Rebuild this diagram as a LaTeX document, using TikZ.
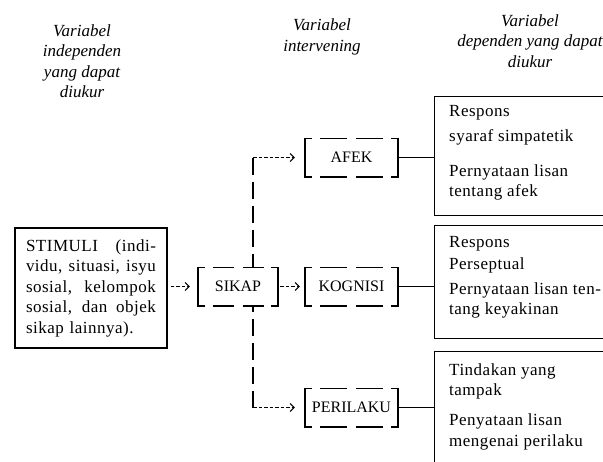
\documentclass[tikz,border=0pt]{standalone}
\usepackage{fontspec}
\setmainfont{Liberation Serif}
\usetikzlibrary{arrows.meta}

% one justified line of the stimulus box
\newcommand{\jline}[1]{\leavevmode\hbox to 130pt{\spaceskip=.25em plus 1fil\relax #1}}

% bracket-like dashed frame round a node: name, dash length
\newcommand{\brkbox}[2]{%
  \draw[brkline] ([xshift=7pt]#1.north west) -| (#1.south west) -- ([xshift=7pt]#1.south west);
  \draw[brkline] ([xshift=-7pt]#1.north east) -| (#1.south east) -- ([xshift=-7pt]#1.south east);
  \draw[brkline, dash pattern=on #2pt off 9pt, dash phase=#2pt+1pt] ([xshift=7pt]#1.north west) -- ([xshift=-7pt]#1.north east);
  \draw[brkline, dash pattern=on #2pt off 9pt, dash phase=#2pt+1pt] ([xshift=7pt]#1.south west) -- ([xshift=-7pt]#1.south east);
}

\tikzset{
  hdr/.style={font=\fontsize{17}{20.5}\selectfont\itshape, align=center},
  body/.style={font=\fontsize{17}{20.5}\selectfont\addfontfeature{LetterSpace=3}},
  stimbox/.style={draw, line width=1.2pt, body, text width=130pt, align=left, inner xsep=11pt, minimum height=120pt},
  brk/.style={minimum width=93pt, minimum height=38pt, inner sep=0pt, font=\fontsize{16}{19}\selectfont},
  brkline/.style={line width=1.6pt},
  resbox/.style={draw, line width=1.2pt, anchor=north west, minimum width=200pt, inner sep=0pt},
  restxt/.style={body, anchor=north west, align=left, inner sep=0pt},
  conn/.style={line width=1.2pt},
  vline/.style={line width=1.5pt, dash pattern=on 17pt off 7pt},
  darrow/.style={-{Straight Barb[length=4pt,width=8pt]}, line width=1pt, dash pattern=on 3.5pt off 2pt},
}

\begin{document}
\begin{tikzpicture}[x=1pt,y=-1pt]
\clip (0,0) rectangle (603,461);

% Column headings
\node[hdr] (hdrInd) at (82,61) {Variabel\\independen\\yang dapat\\diukur};
\node[hdr] (hdrInt) at (322,37) {Variabel\\intervening};
\node[hdr] (hdrDep) at (530,41) {Variabel\\dependen yang dapat\\diukur};

% Stimulus
\node[stimbox] (stimuli) at (91,288) {\jline{STIMULI (indi-}\\\jline{vidu, situasi, isyu}\\\jline{sosial, kelompok}\\\jline{sosial, dan objek}\\sikap lainnya).};

% Intervening variables
\node[brk, minimum width=80pt] (sikap) at (238,286.5) {SIKAP};
\node[brk] (afek) at (351.5,157.5) {AFEK};
\node[brk] (kognisi) at (351.5,286.5) {KOGNISI};
\node[brk] (perilaku) at (351.5,407.5) {PERILAKU};
\brkbox{sikap}{21}
\brkbox{afek}{27}
\brkbox{kognisi}{27}
\brkbox{perilaku}{27}

% Measured dependent variables
\node[resbox, minimum height=119pt] (resA) at (434,96) {};
\node[resbox, minimum height=113pt] (resB) at (434,225) {};
\node[resbox, minimum height=130pt] (resC) at (434,351) {};
\node[restxt] (resAtxt) at (449,104.7) {Respons\\[4.5pt]syaraf simpatetik\\[14.5pt]Pernyataan lisan\\tentang afek};
\node[restxt] (resBtxt) at (449,235.7) {Respons\\[1.5pt]Perseptual\\[4.5pt]Pernyataan lisan ten-\\tang keyakinan};
\node[restxt] (resCtxt) at (449,363.4) {Tindakan yang\\tampak\\[9.5pt]Penyataan lisan\\mengenai perilaku};

% Solid links
\draw[conn] (afek.east) -- (afek.east -| resA.west);
\draw[conn] (kognisi.east) -- (kognisi.east -| resB.west);
\draw[conn] (perilaku.east) -- (perilaku.east -| resC.west);

% Dashed arrows
\coordinate (turnA) at (253,157.5);
\coordinate (turnC) at (253,407.5);
\draw[vline] (turnA) -- (turnA |- sikap.north);
\draw[vline] (turnC) -- (turnC |- sikap.south);
\draw[darrow, shorten >=10pt] (turnA) -- (afek.west);
\draw[darrow, shorten >=10pt] (turnC) -- (perilaku.west);
\draw[darrow, shorten <=3pt, shorten >=8pt] (stimuli.east |- sikap.west) -- (sikap.west);
\draw[darrow, shorten <=2pt, shorten >=5pt] (sikap.east) -- (kognisi.west);
\end{tikzpicture}
\end{document}
